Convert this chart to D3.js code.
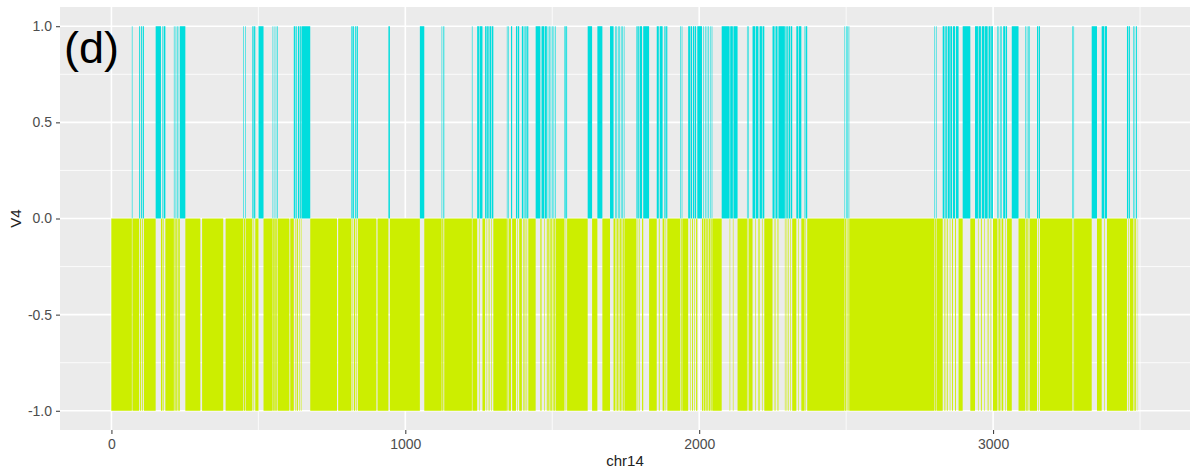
<!DOCTYPE html>
<html>
<head>
<meta charset="utf-8">
<script src="https://cdn.jsdelivr.net/npm/d3@7"></script>
<style>
  html, body { margin: 0; padding: 0; background: #ffffff; }
  svg { display: block; font-family: "Liberation Sans", Arial, sans-serif; }
</style>
</head>
<body>
<svg id="chart" width="1195" height="471"></svg>
<script>
// ---- data ----
const chromosome = "chr14";
const firstPos = 0;
const lastPos = 3490;
// runs of positions with V4 = +1 (all other positions are -1)
const cyanRuns = [
  [70,71],[95,97],[101,103],[107,110],[151,168],[174,176],[179,183],
  [213,214],[219,220],[225,227],[233,251],[449,450],[455,456],
  [480,483],[486,489],[501,517],[549,550],[556,557],[563,565],
  [621,624],[627,630],[635,638],[641,644],[647,676],[817,820],[823,825],
  [830,833],[836,838],[943,947],[1050,1064],[1124,1125],[1130,1132],
  [1227,1228],[1245,1250],[1253,1262],[1272,1276],[1279,1283],
  [1287,1292],[1295,1299],[1346,1347],[1351,1352],[1360,1363],
  [1377,1380],[1383,1387],[1397,1400],[1403,1405],[1409,1412],[1415,1418],
  [1444,1459],[1464,1472],[1475,1481],[1485,1486],[1490,1491],[1495,1496],
  [1500,1501],[1505,1506],[1510,1511],[1542,1545],[1548,1550],
  [1621,1635],[1654,1670],[1697,1708],[1714,1715],[1719,1720],[1724,1725],
  [1729,1730],[1734,1735],[1739,1740],[1744,1745],[1787,1790],[1793,1796],
  [1799,1805],[1810,1829],[1856,1862],[1866,1875],[1882,1885],[1888,1891],
  [1936,1937],[1941,1942],[1963,1968],[1971,1975],[1979,1983],[1986,1989],
  [1994,2009],[2014,2015],[2020,2021],[2026,2027],[2031,2032],[2037,2038],
  [2043,2044],[2077,2103],[2106,2114],[2117,2130],[2163,2164],[2168,2169],
  [2182,2190],[2193,2201],[2206,2213],[2216,2221],[2250,2256],[2260,2266],
  [2270,2291],[2294,2297],[2300,2303],[2306,2309],[2312,2316],[2331,2336],
  [2339,2347],[2359,2361],[2364,2367],[2495,2496],[2500,2501],[2505,2506],
  [2509,2510],[2801,2802],[2806,2807],[2829,2834],[2838,2842],[2846,2852],
  [2855,2860],[2864,2870],[2874,2882],[2897,2922],[2939,2948],[2951,2958],
  [2962,2970],[2973,2981],[2985,2991],[2994,2999],[3014,3015],[3019,3020],
  [3024,3025],[3028,3029],[3035,3040],[3043,3047],[3064,3086],[3110,3111],
  [3115,3116],[3120,3121],[3124,3125],[3150,3153],[3156,3159],[3269,3270],
  [3274,3275],[3336,3353],[3370,3378],[3381,3387],[3456,3459],[3462,3465],
  [3477,3478],[3482,3483],[3487,3489]
];
// runs of positions with no value (thin gaps in the bars)
const missingRuns = [
  [303,308],[381,388],[606,608],[768,771],[902,905]
];
const xTicks = [0, 1000, 2000, 3000];
const xMinor = [500, 1500, 2500, 3500];
const yTicks = [-1, -0.5, 0, 0.5, 1];
const yMinor = [-0.75, -0.25, 0.25, 0.75];
const posColor = "#00DDDD";
const negColor = "#CCEE00";

// build per-position values
const values = [];
for (let p = firstPos; p <= lastPos; p++) values.push({pos: p, v: -1});
cyanRuns.forEach(([a, b]) => { for (let p = a; p <= b; p++) values[p - firstPos].v = 1; });
missingRuns.forEach(([a, b]) => { for (let p = a; p <= b; p++) values[p - firstPos].v = null; });
// merge consecutive equal values into runs
const runs = [];
values.filter(d => d.v !== null).forEach(d => {
  const last = runs[runs.length - 1];
  if (last && last.v === d.v && last.end === d.pos - 1) last.end = d.pos;
  else runs.push({start: d.pos, end: d.pos, v: d.v});
});

// ---- layout ----
const svg = d3.select("#chart");
const P = {left: 60, right: 1190, top: 7, bottom: 430};
const x = d3.scaleLinear().domain([-175, 3670]).range([P.left, P.right]);
const y = d3.scaleLinear().domain([-1.1, 1.1]).range([P.bottom, P.top]);

svg.append("rect").attr("x", P.left).attr("y", P.top)
  .attr("width", P.right - P.left).attr("height", P.bottom - P.top).attr("fill", "#EBEBEB");

const grid = svg.append("g");
xMinor.forEach(t => grid.append("line").attr("x1", x(t)).attr("x2", x(t))
  .attr("y1", P.top).attr("y2", P.bottom).attr("stroke", "#fff").attr("stroke-width", 0.8));
yMinor.forEach(t => grid.append("line").attr("y1", y(t)).attr("y2", y(t))
  .attr("x1", P.left).attr("x2", P.right).attr("stroke", "#fff").attr("stroke-width", 0.8));
xTicks.forEach(t => grid.append("line").attr("x1", x(t)).attr("x2", x(t))
  .attr("y1", P.top).attr("y2", P.bottom).attr("stroke", "#fff").attr("stroke-width", 1.6));
yTicks.forEach(t => grid.append("line").attr("y1", y(t)).attr("y2", y(t))
  .attr("x1", P.left).attr("x2", P.right).attr("stroke", "#fff").attr("stroke-width", 1.6));

// bars
svg.append("g").selectAll("rect").data(runs).join("rect")
  .attr("x", d => x(d.start - 0.5))
  .attr("width", d => x(d.end + 0.5) - x(d.start - 0.5))
  .attr("y", d => d.v > 0 ? y(d.v) : y(0))
  .attr("height", d => Math.abs(y(d.v) - y(0)))
  .attr("fill", d => d.v > 0 ? posColor : negColor);

// axes
const xAxis = d3.axisBottom(x).tickValues(xTicks).tickFormat(d3.format("d")).tickSize(4).tickPadding(5);
const gx = svg.append("g").attr("transform", `translate(0,${P.bottom})`).call(xAxis);
const yAxis = d3.axisLeft(y).tickValues(yTicks).tickFormat(d3.format(".1f")).tickSize(4).tickPadding(4);
const gy = svg.append("g").attr("transform", `translate(${P.left},0)`).call(yAxis);
[gx, gy].forEach(g => {
  g.select(".domain").remove();
  g.selectAll(".tick line").attr("stroke", "#333").attr("stroke-width", 1);
  g.selectAll(".tick text").attr("fill", "#4D4D4D").style("font-size", "14px")
    .style("font-family", "'Liberation Sans', Arial, sans-serif");
});
gy.selectAll(".tick text").text(d => d3.format(".1f")(d).replace("−", "-"));

svg.append("text").attr("x", (P.left + P.right) / 2).attr("y", 466)
  .attr("text-anchor", "middle").attr("fill", "#222").style("font-size", "15px").text(chromosome);
svg.append("text").attr("transform", `translate(21,${(P.top + P.bottom) / 2}) rotate(-90)`)
  .attr("text-anchor", "middle").attr("fill", "#222").style("font-size", "15px").text("V4");

svg.append("text").attr("x", 64).attr("y", 63).attr("fill", "#000")
  .style("font-size", "45px").text("(d)");
</script>
</body>
</html>
